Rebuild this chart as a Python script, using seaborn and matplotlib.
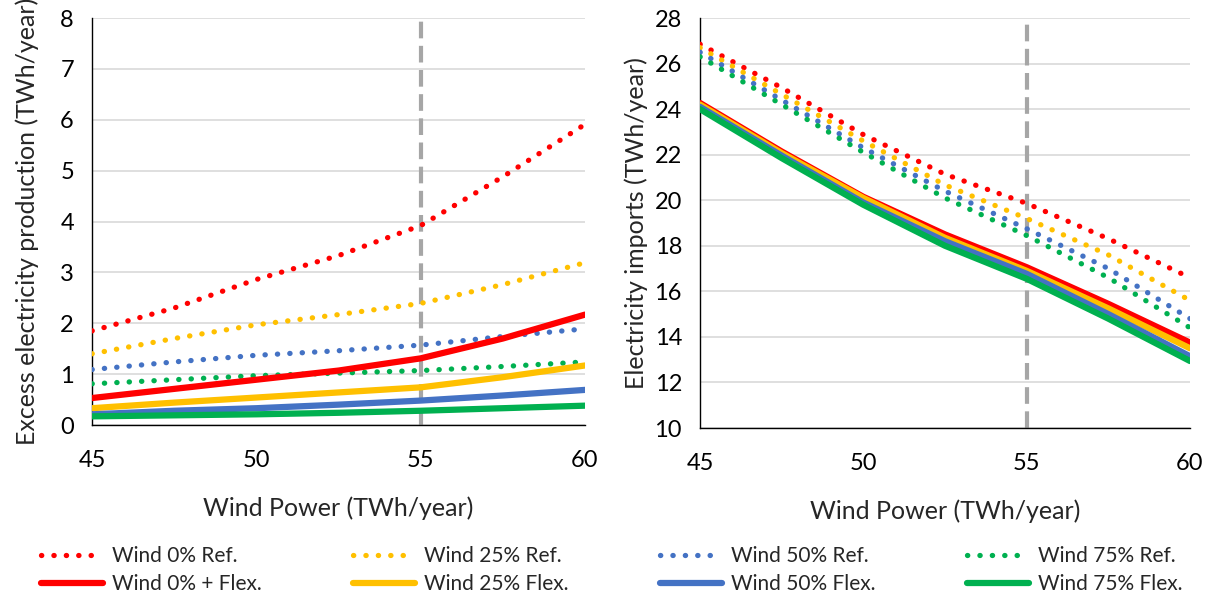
import matplotlib
matplotlib.use("Agg")
import matplotlib.pyplot as plt
import seaborn as sns
import pandas as pd

wind_power = [45, 47.5, 50, 52.5, 55, 57.5, 60]

# excess electricity production (TWh/year)
excess_ref = {
    "0": [1.85, 2.30, 2.86, 3.33, 3.92, 4.88, 5.91],
    "25": [1.40, 1.70, 1.97, 2.17, 2.39, 2.76, 3.19],
    "50": [1.09, 1.24, 1.37, 1.46, 1.57, 1.74, 1.89],
    "75": [0.81, 0.89, 0.97, 1.02, 1.07, 1.15, 1.24],
}
excess_flex = {
    "0": [0.53, 0.71, 0.89, 1.07, 1.31, 1.70, 2.17],
    "25": [0.33, 0.44, 0.54, 0.64, 0.74, 0.94, 1.17],
    "50": [0.21, 0.28, 0.33, 0.40, 0.48, 0.58, 0.69],
    "75": [0.17, 0.19, 0.21, 0.24, 0.28, 0.33, 0.38],
}

# electricity imports (TWh/year)
imports_ref = {
    "0": [26.85, 24.94, 22.88, 21.14, 19.86, 18.31, 16.60],
    "25": [26.70, 24.65, 22.60, 20.67, 19.20, 17.60, 15.60],
    "50": [26.50, 24.40, 22.30, 20.40, 18.75, 17.00, 14.80],
    "75": [26.30, 24.20, 22.10, 20.10, 18.45, 16.60, 14.40],
}
imports_flex = {
    "0": [24.27, 22.14, 20.15, 18.50, 17.06, 15.45, 13.75],
    "25": [24.20, 22.07, 20.10, 18.35, 16.90, 15.25, 13.50],
    "50": [24.10, 21.96, 19.90, 18.20, 16.77, 15.00, 13.15],
    "75": [24.00, 21.85, 19.80, 18.00, 16.55, 14.80, 12.94],
}

shares = ["0", "25", "50", "75"]
colors = {"0": "#FF0000", "25": "#FFC000", "50": "#4472C4", "75": "#00B050"}
ref_labels = {s: f"Wind {s}% Ref." for s in shares}
flex_labels = {"0": "Wind 0% + Flex.", "25": "Wind 25% Flex.",
               "50": "Wind 50% Flex.", "75": "Wind 75% Flex."}


def to_long(ref, flex):
    rows = []
    for s in shares:
        for x, y in zip(wind_power, ref[s]):
            rows.append({"wind": x, "value": y, "series": ref_labels[s]})
    for s in shares:
        for x, y in zip(wind_power, flex[s]):
            rows.append({"wind": x, "value": y, "series": flex_labels[s]})
    return pd.DataFrame(rows)


sns.set_style("white")
plt.rcParams["font.family"] = ["Lato", "DejaVu Sans"]

fig = plt.figure(figsize=(12.18, 5.99), dpi=100)
ax1 = fig.add_axes([92 / 1218, 1 - 425 / 599, 493 / 1218, 407 / 599])
ax2 = fig.add_axes([700 / 1218, 1 - 428 / 599, 490 / 1218, 410 / 599])

dot_style = (0, (0.05, 2.3))
handles = {}
for ax, ref, flex, ylim, yticks, ylabel, ypad in [
    (ax1, excess_ref, excess_flex, (0, 8), range(0, 9), "Excess electricity production (TWh/year)", 15),
    (ax2, imports_ref, imports_flex, (10, 28), range(10, 29, 2), "Electricity imports (TWh/year)", 5),
]:
    df = to_long(ref, flex)
    ax.axvline(55, color="#A6A6A6", lw=3, ls=(0, (4, 1.8)), zorder=1)
    for s in shares:
        sub = df[df["series"] == ref_labels[s]]
        sns.lineplot(data=sub, x="wind", y="value", ax=ax, color=colors[s],
                     lw=3.8, linestyle=dot_style, dash_capstyle="round",
                     label=ref_labels[s], legend=False, zorder=3)
    for s in shares:
        sub = df[df["series"] == flex_labels[s]]
        sns.lineplot(data=sub, x="wind", y="value", ax=ax, color=colors[s],
                     lw=4.5, solid_capstyle="round",
                     label=flex_labels[s], legend=False, zorder=3)
    ax.set_xlim(45, 60)
    ax.set_ylim(*ylim)
    ax.set_xticks([45, 50, 55, 60])
    ax.set_yticks(list(yticks))
    ax.yaxis.grid(True, color="#D9D9D9", lw=1.2)
    ax.set_axisbelow(True)
    for side in ["top", "right"]:
        ax.spines[side].set_visible(False)
    for side in ["left", "bottom"]:
        ax.spines[side].set_color("black")
        ax.spines[side].set_linewidth(1)
    ax.tick_params(axis="both", direction="out", length=8, width=1,
                   colors="black", labelsize=17, pad=5)
    ax.tick_params(axis="x", pad=10, color="#9A9A9A")
    ax.set_xlabel("Wind Power (TWh/year)", fontsize=18, labelpad=18)
    ax.set_ylabel(ylabel, fontsize=18, labelpad=ypad)
    for line in ax.get_lines()[1:]:
        handles[line.get_label()] = line

order = []
for s in shares:
    order += [ref_labels[s], flex_labels[s]]
fig.legend([handles[k] for k in order], order, loc="lower left",
           bbox_to_anchor=(0.018, -0.023), ncol=4, frameon=False, fontsize=15,
           handlelength=3.0, columnspacing=4.4, labelspacing=0.38,
           handletextpad=0.4)

fig.savefig("out.png", dpi=100)
